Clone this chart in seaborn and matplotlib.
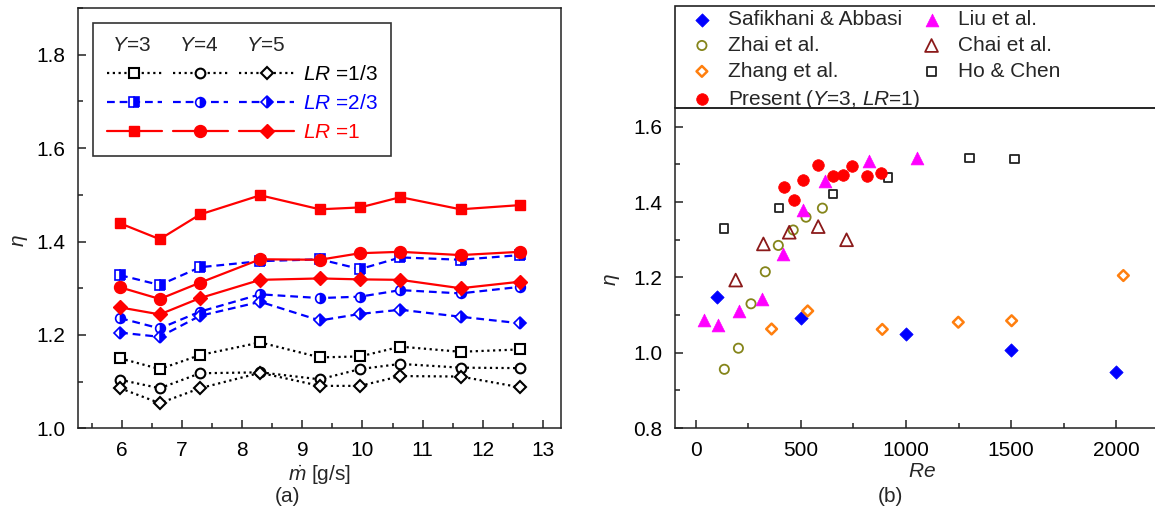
import matplotlib
matplotlib.use("Agg")
import matplotlib.pyplot as plt
from matplotlib.ticker import MultipleLocator, FormatStrFormatter
from matplotlib.legend_handler import HandlerTuple
from matplotlib.patches import Rectangle
import seaborn as sns

# ---------------- (a) thermal performance factor vs. mass flow rate ----------------
mdot = [5.97, 6.63, 7.30, 8.30, 9.29, 9.96, 10.63, 11.63, 12.62]

eta_y3_lr13 = [1.150, 1.127, 1.157, 1.184, 1.152, 1.154, 1.175, 1.164, 1.169]
eta_y4_lr13 = [1.104, 1.086, 1.118, 1.120, 1.105, 1.127, 1.138, 1.130, 1.129]
eta_y5_lr13 = [1.086, 1.054, 1.086, 1.119, 1.091, 1.091, 1.112, 1.111, 1.088]

eta_y3_lr23 = [1.328, 1.307, 1.345, 1.358, 1.362, 1.341, 1.366, 1.361, 1.371]
eta_y4_lr23 = [1.236, 1.214, 1.250, 1.287, 1.279, 1.282, 1.296, 1.289, 1.303]
eta_y5_lr23 = [1.205, 1.196, 1.241, 1.271, 1.231, 1.245, 1.254, 1.239, 1.225]

eta_y3_lr1 = [1.439, 1.405, 1.458, 1.499, 1.469, 1.473, 1.495, 1.469, 1.478]
eta_y4_lr1 = [1.302, 1.277, 1.312, 1.362, 1.361, 1.375, 1.378, 1.371, 1.378]
eta_y5_lr1 = [1.259, 1.244, 1.279, 1.318, 1.321, 1.319, 1.318, 1.300, 1.314]

lr_labels = [r"$LR$ =1/3", r"$LR$ =2/3", r"$LR$ =1"]
y_header = r" $Y$=3     $Y$=4     $Y$=5"

# ---------------- (b) comparison with published correlations / data ----------------
re_safikhani = [100, 500, 1000, 1500, 2000]
eta_safikhani = [1.149, 1.092, 1.049, 1.007, 0.950]
re_zhai = [135, 202, 262, 330, 392, 463, 524, 602]
eta_zhai = [0.956, 1.012, 1.130, 1.215, 1.285, 1.326, 1.360, 1.384]
re_zhang = [360, 532, 887, 1249, 1503, 2035]
eta_zhang = [1.063, 1.111, 1.062, 1.081, 1.085, 1.205]
re_present = [420, 467, 511, 582, 651, 699, 744, 816, 882]
eta_present = eta_y3_lr1
re_liu = [38, 103, 206, 313, 413, 511, 614, 824, 1051]
eta_liu = [1.087, 1.074, 1.111, 1.143, 1.262, 1.378, 1.455, 1.510, 1.516]
re_chai = [189, 321, 444, 582, 717]
eta_chai = [1.193, 1.289, 1.320, 1.335, 1.300]
re_ho = [133, 394, 651, 913, 1302, 1516]
eta_ho = [1.330, 1.384, 1.422, 1.465, 1.518, 1.514]

sns.set_theme(style="ticks")
plt.rcParams["font.family"] = ["Liberation Sans", "DejaVu Sans"]
plt.rcParams["mathtext.fontset"] = "custom"
plt.rcParams["mathtext.rm"] = "Liberation Sans"
plt.rcParams["mathtext.it"] = "Liberation Sans:italic"
plt.rcParams["mathtext.bf"] = "Liberation Sans:bold"

fig = plt.figure(figsize=(11.55, 5.18), dpi=100)
ax1 = fig.add_axes([0.0675, 0.173, 0.4182, 0.8116])
ax2 = fig.add_axes([0.5844, 0.1737, 0.4273, 0.6178])

TICK_FS = 15


def style_axes(ax):
    for s in ax.spines.values():
        s.set_linewidth(1.1)
        s.set_color("#222222")
    ax.tick_params(which="both", direction="in", top=False, right=False,
                   colors="#222222", labelcolor="black", labelsize=TICK_FS)
    ax.tick_params(which="major", length=6, width=1.1, pad=9)
    ax.tick_params(which="minor", length=3.5, width=1.1)


# ---- panel (a) ----
black_kw = dict(color="black", linestyle=(0, (1, 1.6)), linewidth=1.6,
                mfc="white", mec="black", mew=1.5)
blue_kw = dict(color="blue", linestyle=(0, (3.5, 2.2)), linewidth=1.6,
               mfc="blue", mec="blue", mew=1.2, fillstyle="right",
               markerfacecoloralt="white")
red_kw = dict(color="red", linestyle="-", linewidth=1.6, mfc="red", mec="red", mew=1.0)

series = [
    (eta_y3_lr13, "s", 6.5, black_kw), (eta_y4_lr13, "o", 7.0, black_kw), (eta_y5_lr13, "D", 6.3, black_kw),
    (eta_y3_lr23, "s", 6.5, blue_kw), (eta_y4_lr23, "o", 7.0, blue_kw), (eta_y5_lr23, "D", 6.3, blue_kw),
    (eta_y3_lr1, "s", 7.8, red_kw), (eta_y4_lr1, "o", 8.6, red_kw), (eta_y5_lr1, "D", 7.0, red_kw),
]
lines = []
for vals, mk, ms, kw in series:
    sns.lineplot(x=mdot, y=vals, ax=ax1, marker=mk, markersize=ms, **kw)
    lines.append(ax1.lines[-1])

ax1.set_xlim(5.27, 13.3)
ax1.set_ylim(1.0, 1.9)
ax1.xaxis.set_major_locator(MultipleLocator(1))
ax1.xaxis.set_minor_locator(MultipleLocator(0.5))
ax1.yaxis.set_major_locator(MultipleLocator(0.2))
ax1.yaxis.set_minor_locator(MultipleLocator(0.1))
ax1.yaxis.set_major_formatter(FormatStrFormatter("%.1f"))
style_axes(ax1)
ax1.set_xlabel(r"$\dot{m}$ [g/s]", fontsize=TICK_FS, labelpad=2)
ax1.set_ylabel(r"$\eta$", fontsize=TICK_FS)
ax1.yaxis.set_label_coords(-0.10, 0.446)

handles = [tuple(lines[0:3]), tuple(lines[3:6]), tuple(lines[6:9])]
leg1 = ax1.legend(handles, lr_labels,
                  handler_map={tuple: HandlerTuple(ndivide=None, pad=0.55)},
                  loc="upper left", bbox_to_anchor=(0.031, 0.965), borderaxespad=0,
                  handlelength=9.0, handletextpad=0.4, fontsize=TICK_FS,
                  title=y_header, title_fontsize=TICK_FS, alignment="left",
                  labelcolor=["black", "blue", "red"], labelspacing=0.47,
                  borderpad=0.66, frameon=True, fancybox=False,
                  edgecolor="#333333", framealpha=1)
leg1.get_frame().set_linewidth(1.2)

# ---- panel (b) ----
sns.scatterplot(x=re_safikhani, y=eta_safikhani, ax=ax2, marker="D", s=46,
                color="blue", edgecolor="blue", linewidth=0.5, label="Safikhani & Abbasi", zorder=3)
sns.scatterplot(x=re_zhai, y=eta_zhai, ax=ax2, marker="o", s=44, facecolor="none",
                edgecolor="#85851a", linewidth=1.3, label="Zhai et al.", zorder=3)
sns.scatterplot(x=re_zhang, y=eta_zhang, ax=ax2, marker="D", s=30, facecolor="none",
                edgecolor="#ff7f0e", linewidth=1.8, label="Zhang et al.", zorder=3)
sns.scatterplot(x=re_present, y=eta_present, ax=ax2, marker="o", s=70,
                color="red", edgecolor="red", linewidth=0.5, label=r"Present ($Y$=3, $LR$=1)", zorder=4)
sns.scatterplot(x=re_liu, y=eta_liu, ax=ax2, marker="^", s=85,
                color="#ff00ff", edgecolor="#ff00ff", linewidth=0.5, label="Liu et al.", zorder=3)
sns.scatterplot(x=re_chai, y=eta_chai, ax=ax2, marker="^", s=85, facecolor="none",
                edgecolor="#8b1a1a", linewidth=1.3, label="Chai et al.", zorder=3)
sns.scatterplot(x=re_ho, y=eta_ho, ax=ax2, marker="s", s=36, facecolor="none",
                edgecolor="#222222", linewidth=1.3, label="Ho & Chen", zorder=3)

ax2.set_xlim(-100, 2250)
ax2.set_ylim(0.8, 1.65)
ax2.xaxis.set_major_locator(MultipleLocator(500))
ax2.xaxis.set_minor_locator(MultipleLocator(250))
ax2.yaxis.set_major_locator(MultipleLocator(0.2))
ax2.yaxis.set_minor_locator(MultipleLocator(0.1))
ax2.yaxis.set_major_formatter(FormatStrFormatter("%.1f"))
style_axes(ax2)
ax2.set_xlabel(r"$Re$", fontsize=TICK_FS, labelpad=2)
ax2.set_ylabel(r"$\eta$", fontsize=TICK_FS)
ax2.yaxis.set_label_coords(-0.107, 0.4625)

leg2 = ax2.legend(ncol=2, loc="upper left", bbox_to_anchor=(0.025, 1.319), borderaxespad=0,
                  frameon=False, fontsize=15, handletextpad=0.75, columnspacing=0.05,
                  labelspacing=0.33, handlelength=1.0, borderpad=0.2)
ax2.add_patch(Rectangle((0, 1), 1, 0.319, transform=ax2.transAxes, fill=False,
                        lw=1.2, ec="#222222", clip_on=False))

fig.text(287 / 1155, 1 - 497 / 518, "(a)", ha="center", va="center", fontsize=TICK_FS)
fig.text(890 / 1155, 1 - 497 / 518, "(b)", ha="center", va="center", fontsize=TICK_FS)

fig.savefig("out.png", dpi=100)
